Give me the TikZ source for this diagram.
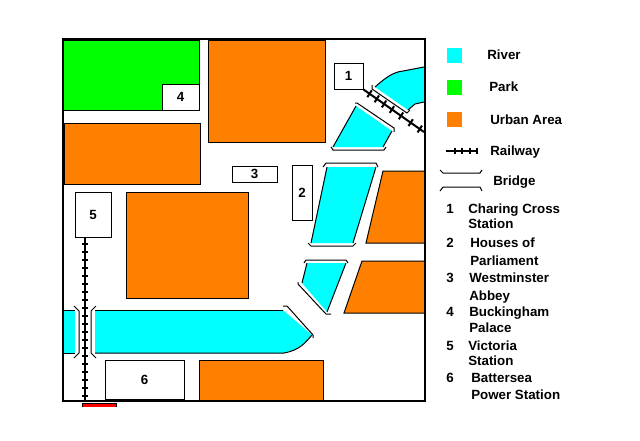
\documentclass[tikz,border=0pt]{standalone}
\usepackage{fontspec}
\setmainfont{Liberation Sans}
\usetikzlibrary{calc}
\definecolor{rivercol}{RGB}{0,255,255}
\definecolor{parkcol}{RGB}{0,255,0}
\definecolor{urbancol}{RGB}{255,128,0}
\definecolor{redcol}{RGB}{255,0,0}
\tikzset{
  thinblack/.style={draw=black, line width=.75pt},
  urban/.style={thinblack, fill=urbancol},
  river/.style={fill=rivercol},
  riveredge/.style={thinblack, line join=round},
  bridge/.style={thinblack},
  numbox/.style={thinblack, fill=white, inner sep=0pt, font=\bfseries},
  keytext/.style={anchor=west, inner sep=0pt, yshift=-.75pt, text height=7.2pt, text depth=2pt, font=\bfseries},
  railline/.style={line width=1.5pt},
  railtie/.style={line width=1.5pt},
}
\begin{document}
\begin{tikzpicture}[x=.75pt, y=-.75pt]
  \useasboundingbox (0,0) rectangle (640,440);
  % urban areas
  \draw[urban] (208,40) rectangle (325,142);
  \draw[urban] (64,123) rectangle (200,184);
  \draw[urban] (126,192) rectangle (248,298);
  \draw[urban] (199,360) rectangle (323,400);
  \draw[urban] (424,171) -- (383,171) -- (366,243) -- (424,243);
  \draw[urban] (424,261) -- (362,261) -- (344,313) -- (424,313);
  % park
  \draw[thinblack, fill=parkcol] (64,40) -- (199,40) -- (199,110) -- (64,110);
  % river
  \fill[river] (375,87) .. controls (383,80) and (392,72) .. (403,71) -- (424,67) -- (424,102)
    -- (415,104) -- (408,110) -- cycle;
  \draw[riveredge] (375,87) .. controls (383,80) and (392,72) .. (403,71) -- (424,67);
  \draw[riveredge] (424,102) -- (415,104) -- (408,110);
  \fill[river] (356,106) -- (392,131) -- (383,147) -- (333,147) -- cycle;
  \draw[riveredge] (356,106) -- (333,147);
  \draw[riveredge] (392,131) -- (383,147);
  \fill[river] (327,167) -- (376,167) -- (353,243) -- (311,243) -- cycle;
  \draw[riveredge] (327,167) -- (311,243);
  \draw[riveredge] (376,167) -- (353,243);
  \fill[river] (307,263) -- (346,263) -- (327,312) -- (302,283) -- cycle;
  \draw[riveredge] (307,263) -- (302,283);
  \draw[riveredge] (346,263) -- (327,312);
  \fill[river] (95,310) -- (283,310) -- (312,335) .. controls (305,343) and (300,350) .. (284,353)
    -- (95,353) -- cycle;
  \draw[riveredge] (95,310) -- (283,310);
  \draw[riveredge] (95,353) -- (284,353) .. controls (300,350) and (305,343) .. (312,335);
  \fill[river] (64,310) rectangle (75,353);
  \draw[riveredge] (64,310) -- (75,310) (64,353) -- (75,353);
  % bridges
  \draw[bridge] (372,85) -- (372,89) -- (407,113) -- (410,110);
  \draw[bridge] (355,103) -- (357,103) -- (394,128) -- (394,132);
  \draw[bridge] (331,147) -- (333,150) -- (384,150) -- (386,147);
  \draw[bridge] (323,167) -- (326,163) -- (376,163) -- (378,167);
  \draw[bridge] (308,243) -- (311,246) -- (353,246) -- (356,243);
  \draw[bridge] (304,263) -- (306,260) -- (346,260) -- (348,263);
  \draw[bridge] (298,282) -- (298,284) -- (326,314) -- (331,314);
  \draw[bridge] (283,306) -- (287,306) -- (313,335) -- (313,338);
  \draw[bridge] (96,306) -- (91,311) -- (91,353) -- (96,358);
  \draw[bridge] (74,306) -- (79,311) -- (79,353) -- (74,358);
  % places
  \node[numbox, minimum width=29*.75pt, minimum height=26*.75pt] (charing) at (348.5,76) {1};
  \node[numbox, minimum width=20*.75pt, minimum height=55*.75pt] (parliament) at (302,192.5) {2};
  \node[numbox, minimum width=45*.75pt, minimum height=16*.75pt] (abbey) at (254.5,174) {3};
  \node[numbox, minimum width=37*.75pt, minimum height=26*.75pt] (palace) at (180.5,97) {4};
  \node[numbox, minimum width=36*.75pt, minimum height=45*.75pt] (victoria) at (93,214.5) {5};
  \node[numbox, minimum width=79*.75pt, minimum height=39*.75pt] (battersea) at (144.5,379.5) {6};
  % railways
  \coordinate (railEndA) at (424,132);
  \coordinate (railEndB) at (85,400);
  \draw[railline] (charing.south east) -- (railEndA);
  \draw[railline] (victoria.south -| railEndB) -- (railEndB);
  \foreach \t in {0.1,0.22,0.34,0.47,0.62,0.78,0.93} {
    \draw[railtie] ($(charing.south east)!\t!(railEndA)+(-2.2,3.4)$) -- ($(charing.south east)!\t!(railEndA)+(2.2,-3.4)$);
  }
  \foreach \y in {244,252,...,396} {
    \draw[railtie] (82,\y) -- (88,\y);
  }
  % frame
  \draw[line width=2.1pt] (63,39) rectangle (425,401);
  \fill[redcol] (82,404) rectangle (116,406.5);
  \draw[line width=.5pt] (82,407) -- (82,403.5) -- (116,403.5) -- (116,407);
  % key
  \fill[river] (447,48) rectangle (462,63);
  \fill[parkcol] (447,80) rectangle (462,95);
  \fill[urbancol] (447,112) rectangle (462,127);
  \node[keytext] (keyriver) at (487,55) {River};
  \node[keytext] (keypark) at (489,87) {Park};
  \node[keytext] (keyurban) at (490,120) {Urban Area};
  \node[keytext] (keyrail) at (490,151) {Railway};
  \node[keytext] (keybridge) at (493,181) {Bridge};
  \draw[railline] (446,151) -- (478,151);
  \foreach \x in {455,462,470,477} {
    \draw[railtie] (\x,148) -- (\x,154);
  }
  \draw[bridge] (440,170) -- (443,173) -- (480,173) -- (482,170);
  \draw[bridge] (440,191) -- (443,187) -- (480,187) -- (482,191);
  % numbered list
  \node[keytext] (listA) at (446,209) {1};
  \node[keytext] (listB) at (446,243) {2};
  \node[keytext] (listC) at (446,278) {3};
  \node[keytext] (listD) at (446,312) {4};
  \node[keytext] (listE) at (446,346) {5};
  \node[keytext] (listF) at (446,378) {6};
  \node[keytext] (nameAa) at (468,209) {Charing Cross};
  \node[keytext] (nameAb) at (468,224) {Station};
  \node[keytext] (nameBa) at (470,243) {Houses of};
  \node[keytext] (nameBb) at (470,261) {Parliament};
  \node[keytext] (nameCa) at (469,278) {Westminster};
  \node[keytext] (nameCb) at (469,296) {Abbey};
  \node[keytext] (nameDa) at (469,312) {Buckingham};
  \node[keytext] (nameDb) at (469,328) {Palace};
  \node[keytext] (nameEa) at (468,346) {Victoria};
  \node[keytext] (nameEb) at (468,361) {Station};
  \node[keytext] (nameFa) at (471,378) {Battersea};
  \node[keytext] (nameFb) at (471,395) {Power Station};
\end{tikzpicture}
\end{document}
